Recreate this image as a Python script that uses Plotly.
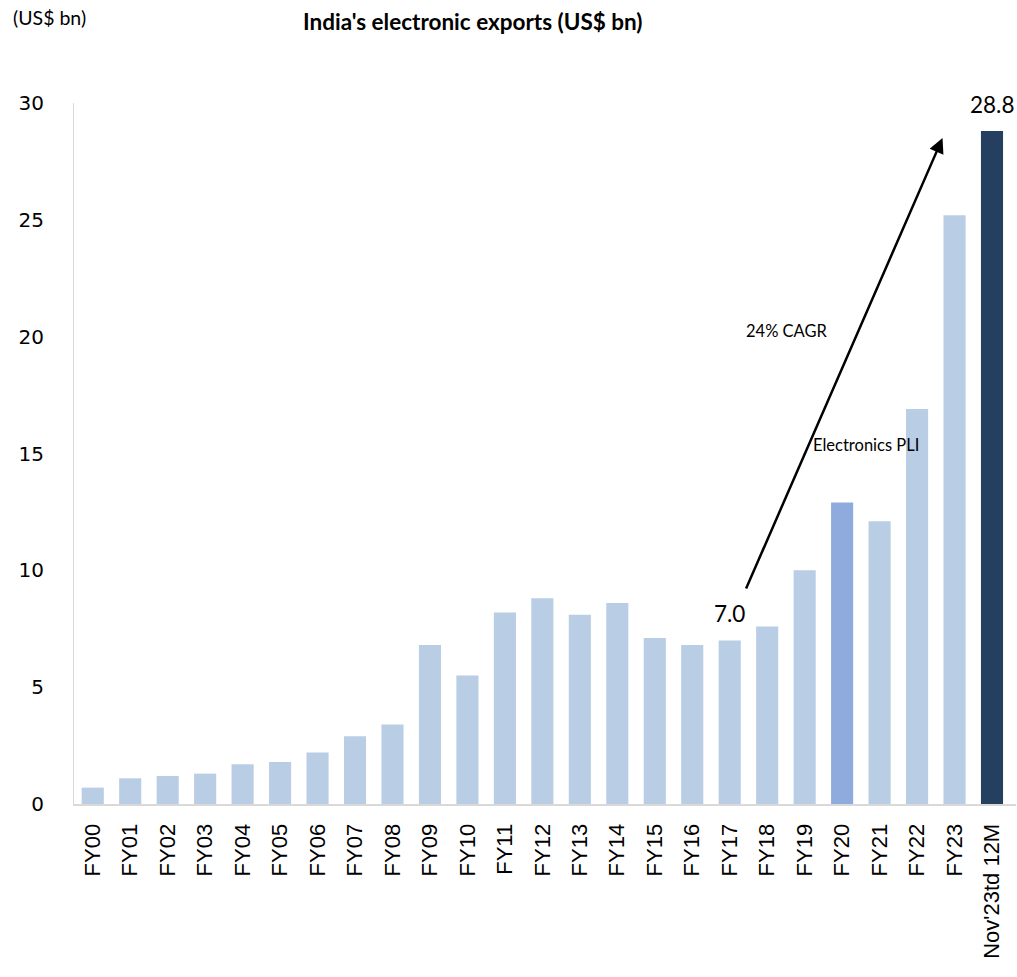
import plotly.graph_objects as go

categories = ["FY00","FY01","FY02","FY03","FY04","FY05","FY06","FY07","FY08","FY09",
              "FY10","FY11","FY12","FY13","FY14","FY15","FY16","FY17","FY18","FY19",
              "FY20","FY21","FY22","FY23","Nov'23td 12M"]
exports = [0.7, 1.1, 1.2, 1.3, 1.7, 1.8, 2.2, 2.9, 3.4, 6.8,
           5.5, 8.2, 8.8, 8.1, 8.6, 7.1, 6.8, 7.0, 7.6, 10.0,
           12.9, 12.1, 16.9, 25.2, 28.8]
y_ticks = [0, 5, 10, 15, 20, 25, 30]

light, mid, dark = "#B9CDE5", "#8FAADC", "#243F60"
colors = [light] * len(categories)
colors[categories.index("FY20")] = mid
colors[-1] = dark

L, T, R, B, W, H = 74, 103, 1, 173, 1017, 977

fig = go.Figure(go.Bar(x=categories, y=exports, marker=dict(color=colors, line=dict(width=0)),
                       hoverinfo="x+y"))

fig.update_layout(
    width=W, height=H,
    margin=dict(l=L, r=R, t=T, b=B),
    plot_bgcolor="white", paper_bgcolor="white",
    bargap=0.41, showlegend=False,
    xaxis=dict(type="category", tickangle=-90, showline=True, linecolor="#D9D9D9", linewidth=2,
               ticks="", ticklabelstandoff=9, automargin=False,
               tickfont=dict(family="Liberation Sans, Arial", size=22, color="black"),
               showgrid=False),
    yaxis=dict(range=[0, 30], tickvals=y_ticks, showline=True, linecolor="#D9D9D9", linewidth=1,
               ticks="", showgrid=False, zeroline=False, ticklabelstandoff=25, automargin=False,
               tickfont=dict(family="DejaVu Sans, Verdana", size=20, color="black")),
)

# arrow for CAGR
fig.add_annotation(x=22.68, y=28.5, ax=17.42, ay=9.16, xref="x", yref="y", axref="x", ayref="y",
                   showarrow=True, arrowhead=2, arrowsize=1.2, arrowwidth=2.5, arrowcolor="black", text="")

fig.add_annotation(x=18.54, y=20.24, xref="x", yref="y", text="24% CAGR", showarrow=False,
                   font=dict(family="Lato, Open Sans", size=16.5, color="black"))
fig.add_annotation(x=20.63, y=15.36, xref="x", yref="y", text="Electronics PLI", showarrow=False,
                   font=dict(family="Lato, Open Sans", size=16.5, color="black"))
fig.add_annotation(x=categories[17], y=exports[17], xref="x", yref="y", text="7.0", showarrow=False,
                   yshift=27, font=dict(family="Lato, Open Sans", size=22.5, color="black"))
fig.add_annotation(x=categories[-1], y=exports[-1], xref="x", yref="y", text="28.8", showarrow=False,
                   yshift=27, font=dict(family="Lato, Open Sans", size=22.5, color="black"))

plot_w = W - L - R
plot_h = H - T - B
def px(xp): return (xp - L) / plot_w
def py(yp): return (T + plot_h - yp) / plot_h

fig.add_annotation(x=px(473), y=py(21), xref="paper", yref="paper", xanchor="center", yanchor="middle",
                   text="<b>India's electronic exports (US$ bn)</b>", showarrow=False,
                   font=dict(family="Lato, Open Sans", size=22.5, color="black"))
fig.add_annotation(x=px(49), y=py(18), xref="paper", yref="paper", xanchor="center", yanchor="middle",
                   text="(US$ bn)", showarrow=False,
                   font=dict(family="Lato, Open Sans", size=19.5, color="black"))

fig.write_html("out.html", config={"displayModeBar": False},
               post_script="document.body.style.margin='0';document.body.style.overflow='hidden';")
